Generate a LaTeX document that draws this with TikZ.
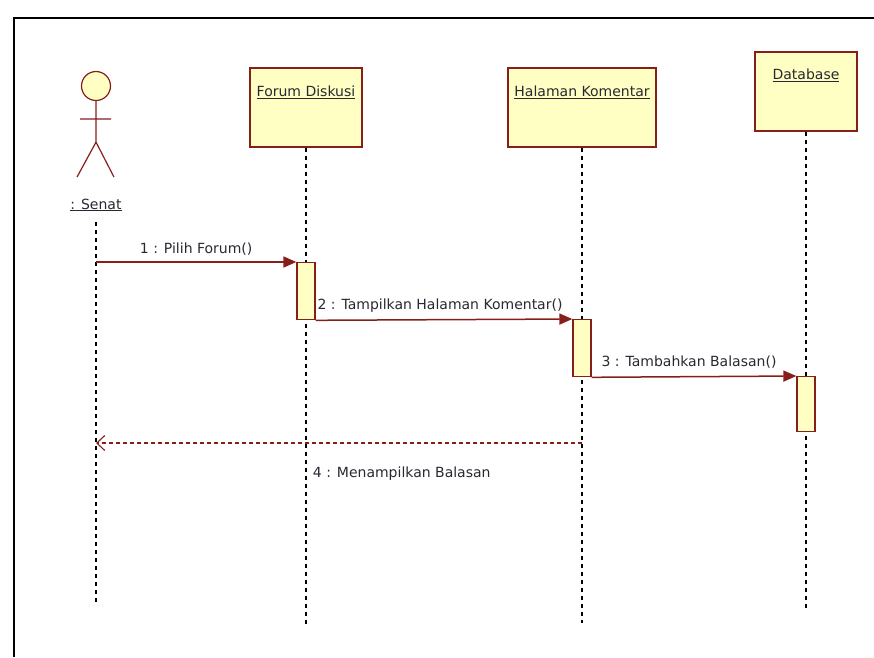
\documentclass[tikz,border=0pt]{standalone}
\usepackage{fontspec}
\setmainfont{DejaVu Sans}
\usetikzlibrary{positioning,arrows.meta}
\definecolor{umlred}{RGB}{135,30,25}
\definecolor{umlfill}{RGB}{255,255,196}
\definecolor{umltext}{RGB}{40,40,50}

\begin{document}
\begin{tikzpicture}[x=1pt,y=-1pt,font=\fontsize{14}{16}\selectfont,
  object/.style={draw=umlred,fill=umlfill,line width=1.3pt,minimum height=79pt},
  act/.style={draw=umlred,fill=umlfill,line width=1.3pt,minimum width=18pt,anchor=north},
  life/.style={dash pattern=on 4pt off 4pt,line width=1.2pt},
  msg/.style={umlred,line width=1.5pt,-{Triangle[length=13pt,width=11pt]}},
  reply/.style={umlred,line width=1.1pt,dash pattern=on 4pt off 3pt,-{Straight Barb[length=8pt,width=15pt]}},
  lbl/.style={text=umltext,inner sep=4pt}]
 \useasboundingbox (0,0) rectangle (874,657);
 \draw[line width=2pt] (874,18) -- (14,18) -- (14,657);

 % actor
 \node[circle,draw=umlred,fill=umlfill,line width=1.2pt,minimum size=29pt,inner sep=0pt] (head) at (96,86) {};
 \draw[umlred,line width=1.2pt] (head.south) -- ++(0,41) coordinate (hip)
  (80,119) -- (111,119)
  (hip) -- ++(-19,35) (hip) -- ++(18,35);
 \node[lbl,anchor=base] (senat) at (96,209) {\underline{: Senat}};
 \coordinate (senattop) at (96,222);

 % objects
 \node[object,minimum width=112pt] (forum) at (306,107.5) {};
 \node[object,minimum width=148pt] (halaman) at (582,107.5) {};
 \node[object,minimum width=102pt] (db) at (806,91.5) {};
 \node[lbl,anchor=base] (forumname) at ([yshift=-29pt]forum.north) {\underline{Forum Diskusi}};
 \node[lbl,anchor=base] (halamanname) at ([yshift=-29pt]halaman.north) {\underline{Halaman Komentar}};
 \node[lbl,anchor=base] (dbname) at ([yshift=-28pt]db.north) {\underline{Database}};

 % lifelines
 \draw[life] (senattop) -- (senattop |- 0,605);
 \draw[life] (forum.south) -- (forum.south |- 0,625);
 \draw[life] (halaman.south) -- (halaman.south |- 0,623);
 \draw[life] (db.south) -- (db.south |- 0,610);

 % activations
 \node[act,minimum height=57pt] (forumact) at (forum.south |- 0,262) {};
 \node[act,minimum height=57pt] (halact) at (halaman.south |- 0,319) {};
 \node[act,minimum height=55pt] (dbact) at (db.south |- 0,376) {};

 % messages
 \coordinate (s1) at (senattop |- forumact.north);
 \path[msg]
  (s1) edge node[lbl,above,yshift=2pt] {1 : Pilih Forum()} (forumact.north west)
  (forumact.south east) edge node[lbl,above,yshift=2pt,xshift=-4pt] {2 : Tampilkan Halaman Komentar()} (halact.north west)
  (halact.south east) edge node[lbl,above,yshift=4pt,xshift=-5pt] {3 : Tambahkan Balasan()} (dbact.north west);
 \coordinate (h4) at (halaman.south |- 0,443);
 \coordinate (s4) at (senattop |- h4);
 \path[reply] (h4) edge node[lbl,pos=0.563,anchor=north west,yshift=-19pt] {4 : Menampilkan Balasan} (s4);
\end{tikzpicture}
\end{document}
